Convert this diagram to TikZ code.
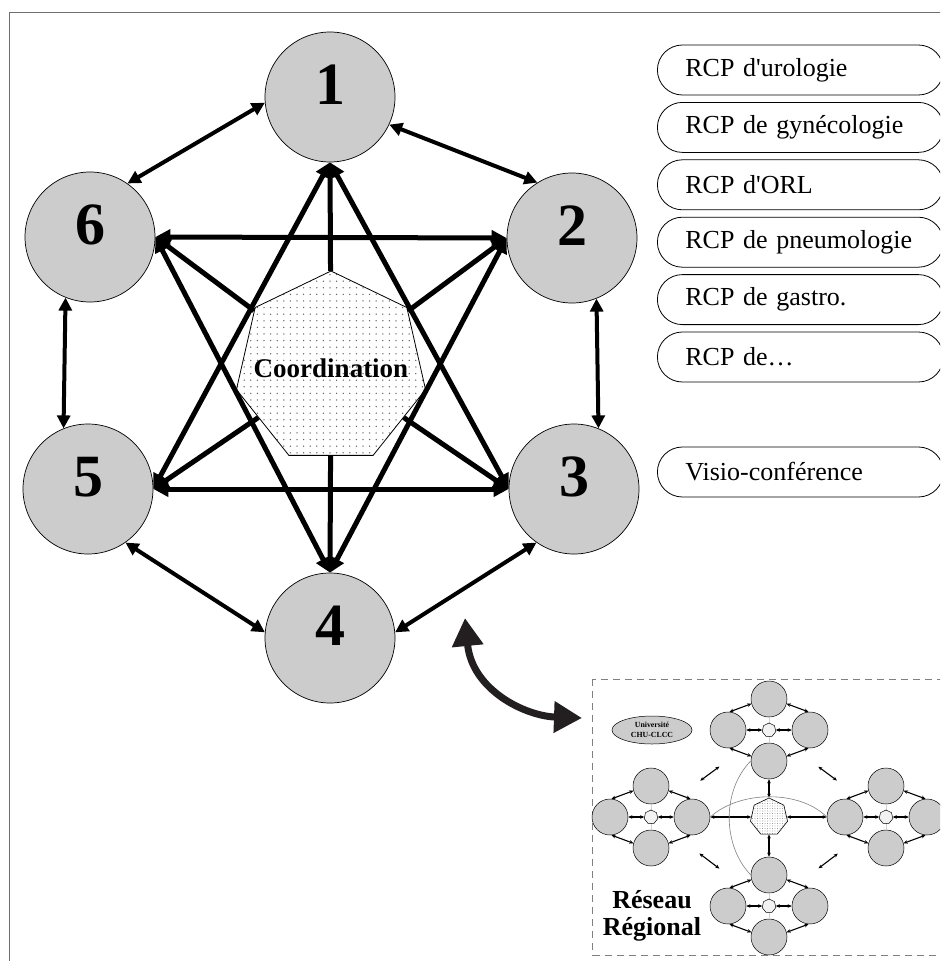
\documentclass[tikz,border=0pt]{standalone}
\usepackage{fontspec}
\setmainfont{Liberation Serif}
\usetikzlibrary{arrows.meta,shapes.geometric,patterns.meta}
\definecolor{RcpGray}{RGB}{204,204,204}
\definecolor{RcpFrame}{RGB}{110,110,110}
\definecolor{RcpDark}{RGB}{35,31,32}

\begin{document}
\begin{tikzpicture}[x=1pt,y=-1pt,
  site/.style={circle,draw,line width=0.7pt,fill=RcpGray,minimum size=130pt,inner sep=0pt,text height=41pt,text depth=26pt,font=\bfseries\fontsize{60}{60}\selectfont},
  hub/.style={regular polygon,regular polygon sides=7,draw,line width=0.8pt,inner sep=0pt,minimum size=#1,preaction={fill=white},pattern={Dots[distance=6.6pt,radius=0.75pt]},pattern color=gray!80!black},
  ring/.style={{Triangle[length=13pt,width=13pt]}-{Triangle[length=13pt,width=13pt]},line width=4pt},
  star/.style={-{Triangle[length=15pt,width=15pt]},line width=5pt},
  both/.style={{Triangle[length=15pt,width=15pt]}-{Triangle[length=15pt,width=15pt]},line width=5pt},
  rcp/.style={draw,line width=0.8pt,rounded corners=25pt,minimum height=50pt,inner ysep=0pt,inner xsep=0pt,text width=286pt,align=left,anchor=west,execute at begin node=\hspace*{28pt},font=\fontsize{26}{26}\selectfont},
  mini/.style={circle,draw,line width=0.5pt,fill=RcpGray,minimum size=36pt,inner sep=0pt},
  tiny/.style={{Stealth[length=4pt,width=3.5pt]}-{Stealth[length=4pt,width=3.5pt]},line width=1.1pt},
  faint/.style={gray,line width=0.6pt}
]
\useasboundingbox (0,0) rectangle (940,961);
\clip (0,0) rectangle (940,961);
\draw[RcpFrame,line width=1.5pt] (9.5,12.5) rectangle (990,1000);

% sites around the coordination
\node[site] (c1) at (330,97) {1};
\node[site] (c2) at (572,238) {2};
\node[site] (c3) at (574,489) {3};
\node[site] (c4) at (330,638) {4};
\node[site] (c5) at (88,489) {5};
\node[site] (c6) at (90,237) {6};
\node[hub=194pt] (hub) at (331,368) {};
\node[font=\bfseries\fontsize{27}{27}\selectfont] (hubtxt) at (hub) {Coordination};

\foreach \t/\a in {1/south,6/east,2/west,5/east,3/west,4/north}
  \draw[star] (hub) -- (c\t.\a);
\draw[both] (c6.east) -- (c2.west);
\draw[both] (c5.east) -- (c3.west);
\draw[both] (c1.south) -- (c5.east);
\draw[both] (c1.south) -- (c3.west);
\draw[both] (c4.north) -- (c6.east);
\draw[both] (c4.north) -- (c2.west);

\draw[ring] (c1.185) -- (c6.55);
\draw[ring] (c1.-25) -- (c2.122);
\draw[ring] (c2.-68) -- (c3.68);
\draw[ring] (c6.-112) -- (c5.112);
\draw[ring] (c5.-55) -- (c4.175);
\draw[ring] (c3.-125) -- (c4.5);

% RCP list
\foreach \i/\t in {1/{RCP d\textquotesingle urologie},2/{RCP de gynécologie},3/{RCP d\textquotesingle ORL},4/{RCP de pneumologie},5/{RCP de gastro.},6/{RCP de…}}
  \node[rcp] (rcp\i) at (657,{70+(\i-1)*57.4}) {\t};
\node[rcp] (visio) at (657,472) {Visio-conférence};

% link to the regional network
\coordinate (zoomA) at (465,618);
\coordinate (zoomB) at (582,718);
\draw[RcpDark,line width=7pt,{Triangle[length=28pt,width=30pt]}-{Triangle[length=28pt,width=30pt]}]
  (zoomA) .. controls (472,690) and (525,716) .. (zoomB);

% regional network
\draw[gray,line width=1pt,dash pattern=on 7pt off 5pt] (592.5,679) rectangle (990,955);
\foreach \nm/\cx/\cy in {n/769/730,w/651/817,e/886/817,s/769/906} {
  \node[mini] (\nm-t) at (\cx,\cy-31) {};
  \node[mini] (\nm-l) at (\cx-41,\cy) {};
  \node[mini] (\nm-r) at (\cx+41,\cy) {};
  \node[mini] (\nm-b) at (\cx,\cy+31) {};
  \draw[gray!35,line width=0.6pt] (\nm-t) -- (\nm-b);
  \node[hub=14pt,line width=0.5pt,pattern={Dots[distance=2pt,radius=0.35pt]}] (\nm-h) at (\cx,\cy) {};
  \draw[tiny] (\nm-t.195) -- (\nm-l.85);
  \draw[tiny] (\nm-t.-15) -- (\nm-r.95);
  \draw[tiny] (\nm-b.165) -- (\nm-l.-85);
  \draw[tiny] (\nm-b.15) -- (\nm-r.-95);
  \draw[tiny] (\nm-h) -- (\nm-l);
  \draw[tiny] (\nm-h) -- (\nm-r);
}
\node[hub=38pt,line width=0.6pt,pattern={Dots[distance=2.5pt,radius=0.4pt]}] (rhub) at (769,817) {};
\draw[tiny] (rhub) -- (n-b);
\draw[tiny] (rhub) -- (s-t);
\draw[tiny] (rhub) -- (w-r);
\draw[tiny] (rhub) -- (e-l);
\draw[faint] (n-b.west) .. controls (722,790) and (722,845) .. (s-t.west);
\draw[faint] (w-r.east) .. controls (740,790) and (800,790) .. (e-l.west);
\foreach \a/\b/\sa/\sb in {w/n/54/55,n/e/55/54,w/s/54/55,s/e/55/54}
  \draw[tiny,shorten <=\sa pt,shorten >=\sb pt] (\a-h) -- (\b-h);
\node[ellipse,draw,line width=0.5pt,fill=RcpGray,minimum width=80pt,minimum height=28pt,inner sep=0pt,align=center,font=\bfseries\fontsize{7.8}{10}\selectfont] (univ) at (652,730) {Université\\CHU-CLCC};
\node[align=center,font=\bfseries\fontsize{26}{27}\selectfont] (reseau) at (652,916) {Réseau\\Régional};
\end{tikzpicture}
\end{document}
